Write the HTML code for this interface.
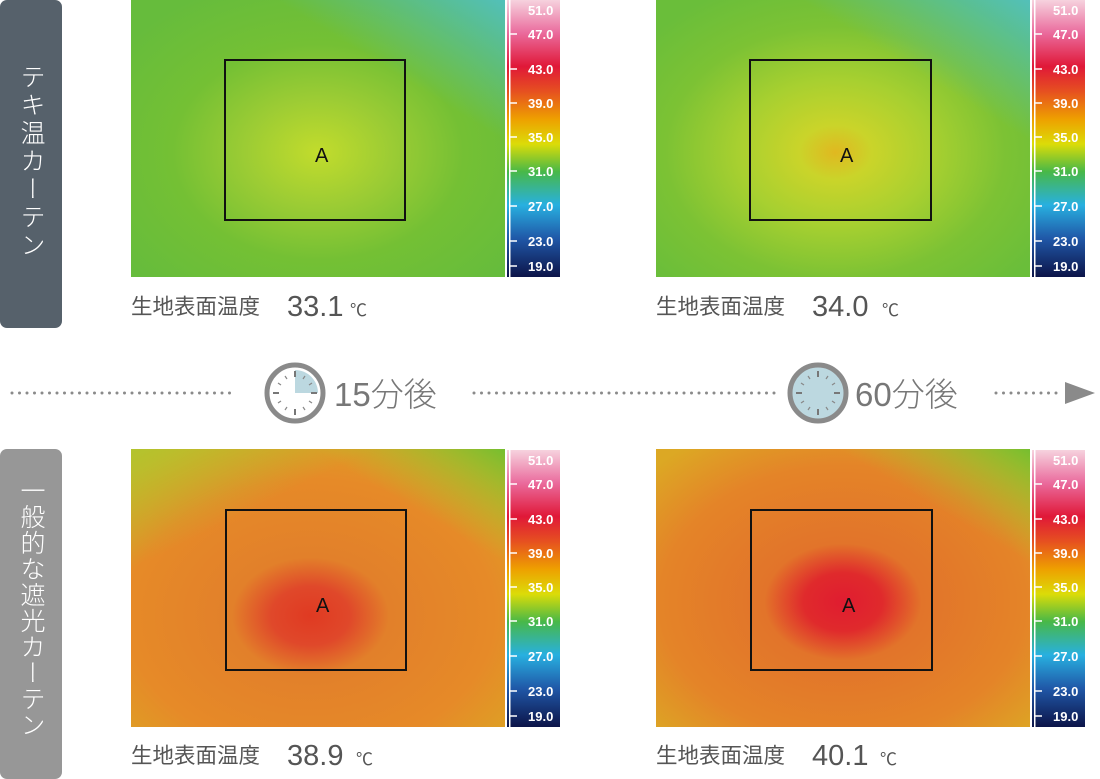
<!DOCTYPE html>
<html><head><meta charset="utf-8"><style>
html,body{margin:0;padding:0;background:#fff;}
body{width:1100px;height:779px;overflow:hidden;position:relative;font-family:"Liberation Sans","Noto Sans CJK JP",sans-serif;}
</style></head><body>
<svg width="1100" height="779" viewBox="0 0 1100 779" xmlns="http://www.w3.org/2000/svg" style="position:absolute;left:0;top:0">
<defs>
<linearGradient id="bar" x1="0" y1="0" x2="0" y2="1">
<stop offset="0" stop-color="#f6d2de"/>
<stop offset="0.12" stop-color="#ea6a9c"/>
<stop offset="0.24" stop-color="#e01838"/>
<stop offset="0.33" stop-color="#e65020"/>
<stop offset="0.43" stop-color="#eea000"/>
<stop offset="0.52" stop-color="#dcdc08"/>
<stop offset="0.62" stop-color="#48b848"/>
<stop offset="0.74" stop-color="#28b0e0"/>
<stop offset="0.86" stop-color="#2058a8"/>
<stop offset="1" stop-color="#0c1448"/>
</linearGradient>
<radialGradient id="g1" cx="0.5" cy="0.55" r="0.65">
<stop offset="0" stop-color="#c2dc2c"/>
<stop offset="0.3" stop-color="#9ccc34"/>
<stop offset="0.6" stop-color="#74c034"/>
<stop offset="1" stop-color="#66bc3c"/>
</radialGradient>
<radialGradient id="g2" cx="0.48" cy="0.55" r="0.65">
<stop offset="0" stop-color="#e0b820"/>
<stop offset="0.15" stop-color="#cad42a"/>
<stop offset="0.4" stop-color="#a8d030"/>
<stop offset="0.7" stop-color="#7cc234"/>
<stop offset="1" stop-color="#6abe3a"/>
</radialGradient>
<radialGradient id="g3" cx="0.48" cy="0.6" r="0.7">
<stop offset="0" stop-color="#e03a22"/>
<stop offset="0.15" stop-color="#e0482a"/>
<stop offset="0.3" stop-color="#e2802a"/>
<stop offset="0.7" stop-color="#e68a28"/>
<stop offset="1" stop-color="#dca424"/>
</radialGradient>
<radialGradient id="g4" cx="0.5" cy="0.55" r="0.7">
<stop offset="0" stop-color="#e01c30"/>
<stop offset="0.15" stop-color="#e02a2c"/>
<stop offset="0.3" stop-color="#e2742a"/>
<stop offset="0.7" stop-color="#e48428"/>
<stop offset="1" stop-color="#dca824"/>
</radialGradient>
<linearGradient id="cyanTR" x1="1" y1="0" x2="0.75" y2="0.3">
<stop offset="0" stop-color="#50c0c8" stop-opacity="0.9"/>
<stop offset="1" stop-color="#50c0c8" stop-opacity="0"/>
</linearGradient>
<linearGradient id="greenTL" x1="0" y1="0" x2="0.2" y2="0.3">
<stop offset="0" stop-color="#a8cc30" stop-opacity="0.8"/>
<stop offset="1" stop-color="#a8cc30" stop-opacity="0"/>
</linearGradient>
<linearGradient id="greenTR" x1="1" y1="0" x2="0.8" y2="0.25">
<stop offset="0" stop-color="#70c030" stop-opacity="0.95"/>
<stop offset="1" stop-color="#a8cc30" stop-opacity="0"/>
</linearGradient>
<g id="bar1">
<rect x="0" y="0" width="2" height="277" fill="#fff"/>
<rect x="2" y="0" width="53" height="277" fill="url(#bar)"/>
<rect x="4" y="0" width="1.5" height="277" fill="#fff"/>
<g fill="#fff" font-size="13" font-weight="bold" font-family="Liberation Sans,sans-serif">
<text x="23" y="15">51.0</text><text x="23" y="39">47.0</text><text x="23" y="74">43.0</text>
<text x="23" y="108">39.0</text><text x="23" y="142">35.0</text><text x="23" y="176">31.0</text>
<text x="23" y="211">27.0</text><text x="23" y="246">23.0</text><text x="23" y="271">19.0</text>
</g>
<g stroke="#fff" stroke-width="1.5">
<line x1="5" y1="34" x2="12" y2="34"/><line x1="5" y1="69" x2="12" y2="69"/><line x1="5" y1="103" x2="12" y2="103"/>
<line x1="5" y1="137" x2="12" y2="137"/><line x1="5" y1="171" x2="12" y2="171"/><line x1="5" y1="206" x2="12" y2="206"/>
<line x1="5" y1="241" x2="12" y2="241"/><line x1="5" y1="266" x2="12" y2="266"/>
</g>
</g>
</defs>

<!-- left labels -->
<rect x="0" y="0" width="62" height="328" rx="7" fill="#56616b"/>
<rect x="0" y="449" width="62" height="330" rx="7" fill="#979797"/>
<text x="31" y="64" fill="#fff" font-size="25" style="writing-mode:vertical-rl;letter-spacing:3px" font-family="Liberation Sans,Noto Sans CJK JP,sans-serif" font-weight="300">テキ温カーテン</text>
<text x="31" y="478" fill="#fff" font-size="25" style="writing-mode:vertical-rl;letter-spacing:1px" font-family="Liberation Sans,Noto Sans CJK JP,sans-serif" font-weight="300">一般的な遮光カーテン</text>

<!-- images -->
<rect x="131" y="0" width="374" height="277" fill="url(#g1)"/>
<rect x="131" y="0" width="374" height="277" fill="url(#cyanTR)"/>
<rect x="656" y="0" width="374" height="277" fill="url(#g2)"/>
<rect x="656" y="0" width="374" height="277" fill="url(#cyanTR)"/>
<rect x="131" y="449" width="374" height="278" fill="url(#g3)"/>
<rect x="131" y="449" width="374" height="278" fill="url(#greenTL)"/>
<rect x="131" y="449" width="374" height="278" fill="url(#greenTR)"/>
<rect x="656" y="449" width="374" height="278" fill="url(#g4)"/>
<rect x="656" y="449" width="374" height="278" fill="url(#greenTR)"/>

<use href="#bar1" x="505" y="0"/>
<use href="#bar1" x="1030" y="0"/>
<use href="#bar1" x="505" y="450"/>
<use href="#bar1" x="1030" y="450"/>

<g fill="none" stroke="#111" stroke-width="2">
<rect x="225" y="60" width="180" height="160"/>
<rect x="750" y="60" width="181" height="160"/>
<rect x="226" y="510" width="180" height="160"/>
<rect x="751" y="510" width="181" height="160"/>
</g>
<g fill="#111" font-size="20" font-family="Liberation Sans,sans-serif">
<text x="315" y="162">A</text><text x="840" y="162">A</text>
<text x="316" y="612">A</text><text x="842" y="612">A</text>
</g>

<!-- captions -->
<g fill="#555" font-family="Liberation Sans,Noto Sans CJK JP,sans-serif">
<text x="131" y="314" font-size="21.5">生地表面温度</text><text x="287" y="316" font-size="29" font-weight="300">33.1</text><text x="350" y="316" font-size="17">℃</text>
<text x="656" y="314" font-size="21.5">生地表面温度</text><text x="812" y="316" font-size="29" font-weight="300">34.0</text><text x="882" y="316" font-size="17">℃</text>
<text x="131" y="763" font-size="21.5">生地表面温度</text><text x="287" y="765" font-size="29" font-weight="300">38.9</text><text x="356" y="765" font-size="17">℃</text>
<text x="656" y="763" font-size="21.5">生地表面温度</text><text x="812" y="765" font-size="29" font-weight="300">40.1</text><text x="880" y="765" font-size="17">℃</text>
</g>

<!-- timeline -->
<g stroke="#8a8a8a" stroke-width="3" stroke-linecap="round" stroke-dasharray="0 7.5">
<line x1="12" y1="393" x2="236" y2="393"/>
<line x1="474" y1="393" x2="780" y2="393"/>
<line x1="996" y1="393" x2="1062" y2="393"/>
</g>
<polygon points="1065,382 1095,393 1065,404" fill="#8a8a8a"/>

<g transform="translate(295,393)">
<circle r="28" fill="#fff" stroke="#8a8a8a" stroke-width="5"/>
<path d="M0,0 L0,-23 A23,23 0 0,1 23,0 Z" fill="#bcd8e0"/>
<g stroke="#777" stroke-width="2">
<line x1="0" y1="-22" x2="0" y2="-16"/><line x1="0" y1="22" x2="0" y2="16"/>
<line x1="-22" y1="0" x2="-16" y2="0"/><line x1="22" y1="0" x2="16" y2="0"/>
</g>
<g stroke="#888" stroke-width="1.2">
<line x1="10" y1="-17" x2="8" y2="-14"/><line x1="17" y1="-10" x2="14" y2="-8"/>
<line x1="17" y1="10" x2="14" y2="8"/><line x1="10" y1="17" x2="8" y2="14"/>
<line x1="-10" y1="17" x2="-8" y2="14"/><line x1="-17" y1="10" x2="-14" y2="8"/>
<line x1="-17" y1="-10" x2="-14" y2="-8"/><line x1="-10" y1="-17" x2="-8" y2="-14"/>
</g>
</g>
<g transform="translate(818,393)">
<circle r="28" fill="#bcd8e0" stroke="#8a8a8a" stroke-width="5"/>
<g stroke="#777" stroke-width="2">
<line x1="0" y1="-22" x2="0" y2="-16"/><line x1="0" y1="22" x2="0" y2="16"/>
<line x1="-22" y1="0" x2="-16" y2="0"/><line x1="22" y1="0" x2="16" y2="0"/>
</g>
<g stroke="#888" stroke-width="1.2">
<line x1="10" y1="-17" x2="8" y2="-14"/><line x1="17" y1="-10" x2="14" y2="-8"/>
<line x1="17" y1="10" x2="14" y2="8"/><line x1="10" y1="17" x2="8" y2="14"/>
<line x1="-10" y1="17" x2="-8" y2="14"/><line x1="-17" y1="10" x2="-14" y2="8"/>
<line x1="-17" y1="-10" x2="-14" y2="-8"/><line x1="-10" y1="-17" x2="-8" y2="-14"/>
</g>
</g>
<g fill="#777" font-size="33" font-weight="300" font-family="Liberation Sans,Noto Sans CJK JP,sans-serif">
<text x="334" y="406">15分後</text>
<text x="855" y="406">60分後</text>
</g>
</svg>
</body></html>
